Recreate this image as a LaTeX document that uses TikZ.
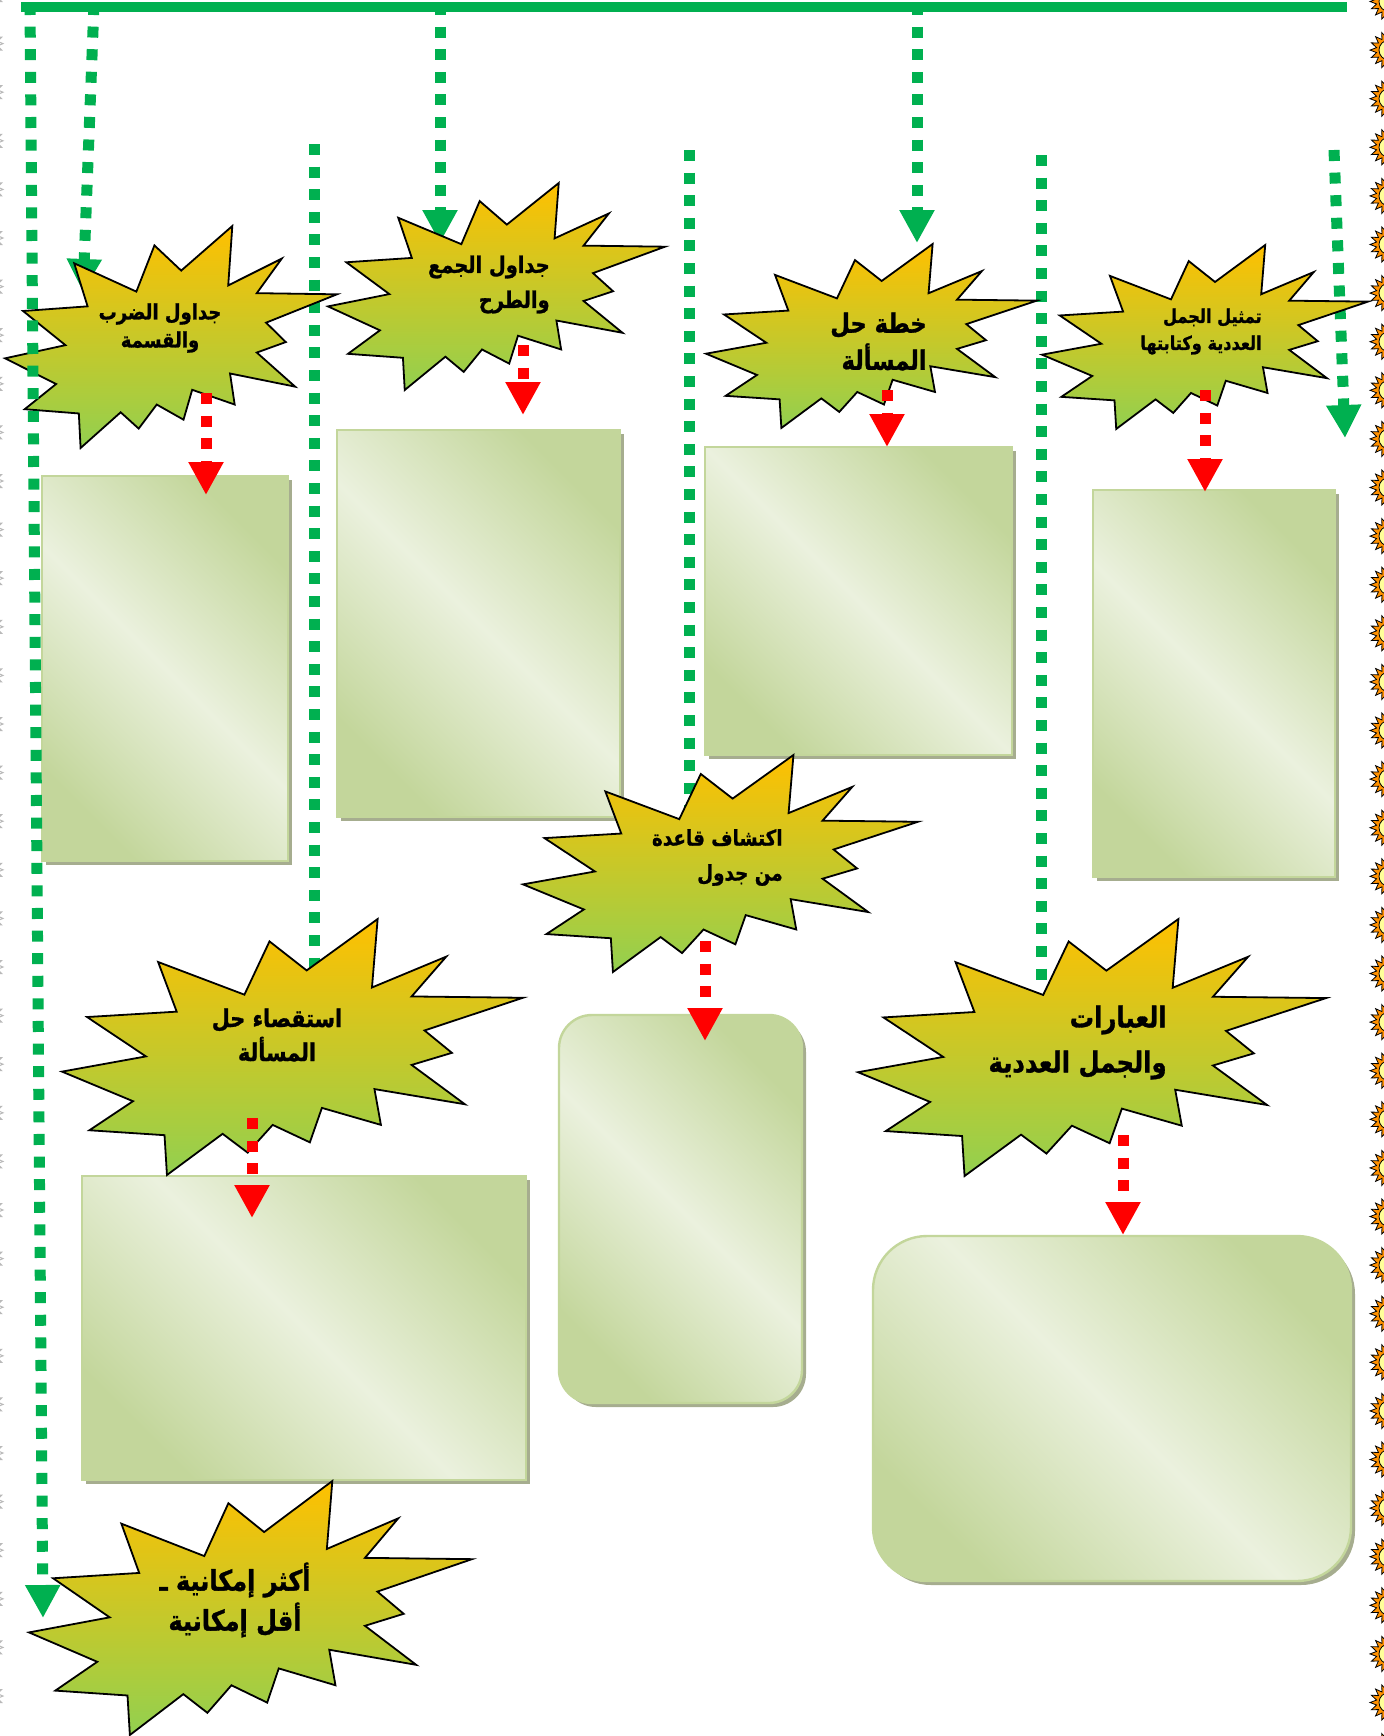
\documentclass[tikz,border=0pt]{standalone}
\usepackage{fontspec}
\newfontfamily\arabicfont[Script=Arabic, BoldFeatures={FakeBold=1.2}]{DejaVu Sans}
\TeXXeTstate=1
\usetikzlibrary{arrows.meta,shapes.geometric,shadows,fit}

\definecolor{barGreen}{HTML}{00B050}
\definecolor{tipRed}{HTML}{FF0000}
\definecolor{boomTop}{HTML}{FFC000}
\definecolor{boomBot}{HTML}{92D050}
\definecolor{panelDark}{HTML}{C3D69B}
\definecolor{panelLight}{HTML}{EBF1DE}
\definecolor{panelShadow}{HTML}{A6AD8F}
\definecolor{sunOrange}{HTML}{FF9100}
\definecolor{sunYellow}{HTML}{FFFF99}

\tikzset{
  greenline/.style={draw=barGreen, line width=5.5pt, dash pattern=on 5.5pt off 5.8pt},
  greenarrow/.style={greenline, -{Triangle[width=16.5pt,length=16.5pt]}},
  redarrow/.style={draw=tipRed, line width=5.5pt, dash pattern=on 5.5pt off 5.8pt,
    -{Triangle[width=16.5pt,length=16.5pt]}},
  panel/.style={draw=panelDark, line width=1.2pt, inner sep=0pt,
    top color=panelDark, bottom color=panelDark, middle color=panelLight, shading angle=-45,
    drop shadow={shadow xshift=2pt, shadow yshift=-2pt, fill=panelShadow, opacity=1}},
  boomshape/.style={draw=black, line width=0.9pt, top color=boomTop, bottom color=boomBot},
  boomtext/.style={inner sep=0pt, align=right, anchor=east, xscale=0.85, transform shape},
  sunray/.style={star, star points=16, star point ratio=1.5, minimum size=19pt, inner sep=0pt,
    draw=black, line width=0.4pt, fill=sunOrange},
  sundisc/.style={circle, minimum size=10pt, inner sep=0pt, draw=black, line width=0.4pt, fill=sunYellow},
  ghostray/.style={star, star points=16, star point ratio=1.45, minimum size=17pt, inner sep=0pt,
    draw=gray!55, line width=0.5pt},
  pics/boom/.style={code={
    \path[boomshape] (0.5307,0.2009) -- (0.4501,0.0874) -- (0.3957,0.2955) -- (0.2085,0.1679)
      -- (0.2488,0.3619) -- (0.0544,0.3829) -- (0.1821,0.5367) -- (0,0.5961) -- (0.1541,0.7117)
      -- (0.0594,0.8252) -- (0.2224,0.8444) -- (0.2277,1) -- (0.3484,0.8391) -- (0.4027,0.9126)
      -- (0.4570,0.8042) -- (0.5377,0.8724) -- (0.5638,0.7378) -- (0.6918,0.8042) -- (0.6778,0.6643)
      -- (0.8740,0.7237) -- (0.7584,0.5700) -- (0.8458,0.5228) -- (0.7864,0.4354) -- (1,0.3077)
      -- (0.7584,0.3025) -- (0.8336,0.1469) -- (0.6724,0.2675) -- (0.6847,0) -- cycle;
  }}
}

\begin{document}
\begin{tikzpicture}[x=0.5pt, y=-0.5pt]
  \useasboundingbox (0,0) rectangle (1383,1736);

  % ends of the green lines
  \coordinate (g1a) at (30,4);     \coordinate (g1b) at (43,1618);
  \coordinate (g2a) at (94,4);     \coordinate (g2b) at (83,292);
  \coordinate (g3a) at (440,4);    \coordinate (g3b) at (440,243);
  \coordinate (g4a) at (917,4);    \coordinate (g4b) at (917,243);
  \coordinate (g5a) at (1334,150); \coordinate (g5b) at (1345,438);
  \coordinate (g6a) at (314,144);  \coordinate (g6b) at (314,990);
  \coordinate (g7a) at (689,150);  \coordinate (g7b) at (689,830);
  \coordinate (g8a) at (1041,155); \coordinate (g8b) at (1041,985);
  \coordinate (barW) at (21,7);    \coordinate (barE) at (1347,7);

  \draw[greenarrow] (g2a) -- (g2b);
  \draw[greenarrow] (g3a) -- (g3b);
  \draw[greenarrow] (g4a) -- (g4b);
  \draw[greenarrow] (g5a) -- (g5b);
  \draw[greenline] (g6a) -- (g6b);
  \draw[greenline] (g7a) -- (g7b);
  \draw[greenline] (g8a) -- (g8b);

  % panels
  \node[panel, fit={(42,476) (288,861)}] (multBox) {};
  \node[panel, fit={(337,430) (620,817)}] (addBox) {};
  \node[panel, fit={(705,447) (1012,755)}] (planBox) {};
  \node[panel, fit={(1093,490) (1335,877)}] (sentBox) {};
  \node[panel, rounded corners=16.5pt, fit={(559,1015) (802,1403)}] (ruleBox) {};
  \node[panel, fit={(82,1176) (526,1480)}] (probeBox) {};
  \node[panel, rounded corners=27pt, fit={(873,1236) (1351,1581)}] (exprBox) {};

  % explosions
  \pic[shift={(5,226)}, xscale=332, yscale=222] {boom};
  \pic[shift={(328,183)}, xscale=337, yscale=207] {boom};
  \pic[shift={(706,244)}, xscale=331, yscale=184] {boom};
  \pic[shift={(1042,245)}, xscale=326, yscale=184] {boom};
  \pic[shift={(523,755)}, xscale=395, yscale=217] {boom};
  \pic[shift={(62,919)}, xscale=461, yscale=256] {boom};
  \pic[shift={(858,919)}, xscale=468, yscale=257] {boom};
  \pic[shift={(29,1481)}, xscale=443, yscale=254] {boom};

  \node[boomtext, align=center, anchor=center, font=\arabicfont\bfseries\fontsize{10.6}{14}\selectfont]
    (mult) at (160,328) {\beginR جداول الضرب\endR\\\beginR والقسمة\endR};
  \node[boomtext, font=\arabicfont\bfseries\fontsize{11.4}{17.5}\selectfont]
    (add) at (550,284.5) {\beginR جداول الجمع\endR\\\beginR والطرح\endR};
  \node[boomtext, font=\arabicfont\bfseries\fontsize{13.3}{18.5}\selectfont]
    (plan) at (927,341.5) {\beginR خطة حل\endR\\\beginR المسألة\endR};
  \node[boomtext, font=\arabicfont\bfseries\fontsize{9.5}{13.5}\selectfont]
    (sent) at (1262,331.5) {\beginR تمثيل الجمل\endR\\\beginR العددية وكتابتها\endR};
  \node[boomtext, font=\arabicfont\bfseries\fontsize{10.8}{17.5}\selectfont]
    (rule) at (783,857.5) {\beginR اكتشاف قاعدة\endR\\\beginR من جدول\endR};
  \node[boomtext, align=center, anchor=center, font=\arabicfont\bfseries\fontsize{12.2}{17}\selectfont]
    (probe) at (277,1035) {\beginR استقصاء حل\endR\\\beginR المسألة\endR};
  \node[boomtext, font=\arabicfont\bfseries\fontsize{14.3}{22.5}\selectfont]
    (expr) at (1167,1042.5) {\beginR العبارات\endR\\\beginR والجمل العددية\endR};
  \node[boomtext, align=center, anchor=center, font=\arabicfont\bfseries\fontsize{14.1}{20}\selectfont]
    (prob) at (235,1600) {\beginR أكثر إمكانية ـ\endR\\\beginR أقل إمكانية\endR};

  \draw[greenarrow] (g1a) -- (g1b);

  % red arrows
  \coordinate (multOut) at (206,393);   \coordinate (multIn) at (206,495);
  \coordinate (addOut) at (523,345);    \coordinate (addIn) at (523,415);
  \coordinate (planOut) at (887,390);   \coordinate (planIn) at (887,447);
  \coordinate (sentOut) at (1205,390);  \coordinate (sentIn) at (1205,492);
  \coordinate (ruleOut) at (705,941);   \coordinate (ruleIn) at (705,1041);
  \coordinate (probeOut) at (252,1118); \coordinate (probeIn) at (252,1218);
  \coordinate (exprOut) at (1123,1135); \coordinate (exprIn) at (1123,1235);
  \draw[redarrow] (multOut) -- (multIn);
  \draw[redarrow] (addOut) -- (addIn);
  \draw[redarrow] (planOut) -- (planIn);
  \draw[redarrow] (sentOut) -- (sentIn);
  \draw[redarrow] (ruleOut) -- (ruleIn);
  \draw[redarrow] (probeOut) -- (probeIn);
  \draw[redarrow] (exprOut) -- (exprIn);

  \draw[barGreen, line width=5pt] (barW) -- (barE);

  % page borders
  \foreach \k in {0,...,36} {
    \node[sunray] (sun\k) at (1389,{1.5+48.6*\k}) {};
    \node[sundisc] (disc\k) at (sun\k) {};
    \node[ghostray] (ghost\k) at (-14,{-5+48.6*\k}) {};
  }
\end{tikzpicture}
\end{document}
